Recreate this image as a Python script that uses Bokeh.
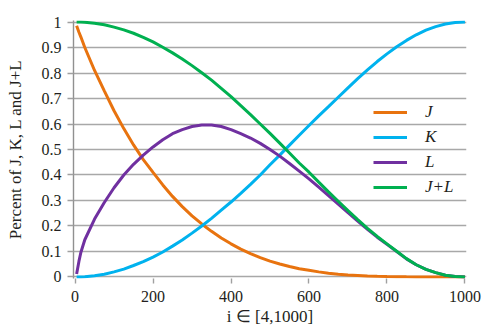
from bokeh.plotting import figure
from bokeh.models import FixedTicker, Range1d
from bokeh.embed import file_html
from bokeh.resources import INLINE

# ---- data ----
i_vals = [4, 10, 15, 25, 50, 75, 100, 125, 150, 175, 200, 225, 250, 275, 300, 325, 350, 375,
          400, 425, 450, 475, 500, 525, 550, 575, 600, 625, 650, 675, 700, 725, 750,
          775, 800, 825, 850, 875, 900, 925, 950, 975, 1000]
J = [0.985, 0.96, 0.941, 0.90, 0.81, 0.73, 0.652, 0.582, 0.518, 0.46, 0.41, 0.361, 0.316, 0.276,
     0.24, 0.208, 0.179, 0.153, 0.13, 0.109, 0.092, 0.076, 0.062, 0.051, 0.041, 0.032,
     0.026, 0.02, 0.015, 0.011, 0.008, 0.006, 0.004, 0.0026, 0.0016, 0.0009, 0.0005,
     0.0002, 0.0001, 0.0, 0.0, 0.0, 0.0]
K = [0.0, 0.0, 0.0003, 0.001, 0.005, 0.011, 0.02, 0.031, 0.045, 0.06, 0.078, 0.098, 0.121, 0.145,
     0.172, 0.2, 0.23, 0.262, 0.294, 0.328, 0.363, 0.4, 0.44, 0.478, 0.517, 0.556,
     0.594, 0.632, 0.668, 0.705, 0.742, 0.778, 0.812, 0.845, 0.875, 0.903, 0.928,
     0.95, 0.968, 0.982, 0.992, 0.998, 1.0]
L = [0.012, 0.062, 0.097, 0.146, 0.227, 0.292, 0.35, 0.40, 0.442, 0.478, 0.51, 0.538, 0.562, 0.578,
     0.59, 0.596, 0.596, 0.59, 0.578, 0.562, 0.545, 0.524, 0.50, 0.474, 0.445, 0.415,
     0.385, 0.352, 0.319, 0.286, 0.252, 0.219, 0.187, 0.156, 0.128, 0.10, 0.071,
     0.048, 0.03, 0.017, 0.007, 0.0015, 0.0]
JL = [1.0, 1.0, 1.0, 0.999, 0.995, 0.989, 0.98, 0.969, 0.956, 0.94, 0.922, 0.901, 0.879, 0.855,
      0.829, 0.801, 0.772, 0.74, 0.707, 0.672, 0.637, 0.60, 0.563, 0.525, 0.486, 0.447,
      0.411, 0.372, 0.334, 0.297, 0.26, 0.225, 0.191, 0.159, 0.13, 0.101, 0.072,
      0.048, 0.03, 0.017, 0.007, 0.0015, 0.0]

series_names = ["J", "K", "L", "J+L"]
series_values = [J, K, L, JL]
series_colors = ["#E8730F", "#00B2EE", "#7030A0", "#00B050"]

x_ticks = [0, 200, 400, 600, 800, 1000]
y_ticks = [0, 0.1, 0.2, 0.3, 0.4, 0.5, 0.6, 0.7, 0.8, 0.9, 1]
y_tick_labels = ["0", "0.1", "0.2", "0.3", "0.4", "0.5", "0.6", "0.7", "0.8", "0.9", "1"]
x_title = "i \u2208 [4,1000]"
y_title = "Percent of J, K, L and J+L"

FONT = "Liberation Serif"
INK = "#231F20"

p = figure(width=499, height=333, output_backend="svg", toolbar_location=None,
           x_range=Range1d(-4, 1004), y_range=Range1d(-0.006, 1.006),
           min_border_left=73, min_border_right=33, min_border_top=20, min_border_bottom=55)
p.outline_line_color = None
p.background_fill_color = "white"
p.border_fill_color = "white"

for name, vals, col in zip(series_names, series_values, series_colors):
    p.line(i_vals, vals, line_color=col, line_width=3, legend_label=name)

# grid
p.xgrid.visible = False
p.ygrid.ticker = FixedTicker(ticks=y_ticks)
p.ygrid.grid_line_color = "#A8A8A8"
p.ygrid.grid_line_width = 1.4

# x axis
xa = p.xaxis[0]
xa.ticker = FixedTicker(ticks=x_ticks)
xa.axis_line_color = None
xa.major_tick_line_color = "#A0A0A0"
xa.major_tick_line_width = 1.4
xa.major_tick_out = 5
xa.major_tick_in = 0
xa.minor_tick_line_color = None
xa.major_label_text_font = FONT
xa.major_label_text_font_size = "16px"
xa.major_label_text_color = INK
xa.major_label_standoff = 7
xa.axis_label = x_title
xa.axis_label_text_font = FONT
xa.axis_label_text_font_style = "normal"
xa.axis_label_text_font_size = "17px"
xa.axis_label_text_color = INK
xa.axis_label_standoff = 2

# y axis
ya = p.yaxis[0]
ya.ticker = FixedTicker(ticks=y_ticks)
ya.major_label_overrides = {t: s for t, s in zip(y_ticks, y_tick_labels)}
ya.axis_line_color = "#909090"
ya.axis_line_width = 1.4
ya.major_tick_line_color = "#A0A0A0"
ya.major_tick_line_width = 1.4
ya.major_tick_out = 6
ya.major_tick_in = 0
ya.minor_tick_line_color = None
ya.major_label_text_font = FONT
ya.major_label_text_font_size = "16px"
ya.major_label_text_color = INK
ya.major_label_standoff = 6
ya.axis_label = y_title
ya.axis_label_text_font = FONT
ya.axis_label_text_font_style = "normal"
ya.axis_label_text_font_size = "17px"
ya.axis_label_text_color = INK
ya.axis_label_standoff = 14

# legend
leg = p.legend[0]
leg.location = (300, 81)
leg.padding = 0
leg.margin = 0
leg.border_line_color = None
leg.background_fill_alpha = 0
leg.glyph_width = 34
leg.glyph_height = 20
leg.label_height = 20
leg.label_standoff = 18
leg.spacing = 5
leg.label_text_font = FONT
leg.label_text_font_style = "italic"
leg.label_text_font_size = "17px"
leg.label_text_color = INK

open("out.html", "w").write(file_html(p, INLINE))
